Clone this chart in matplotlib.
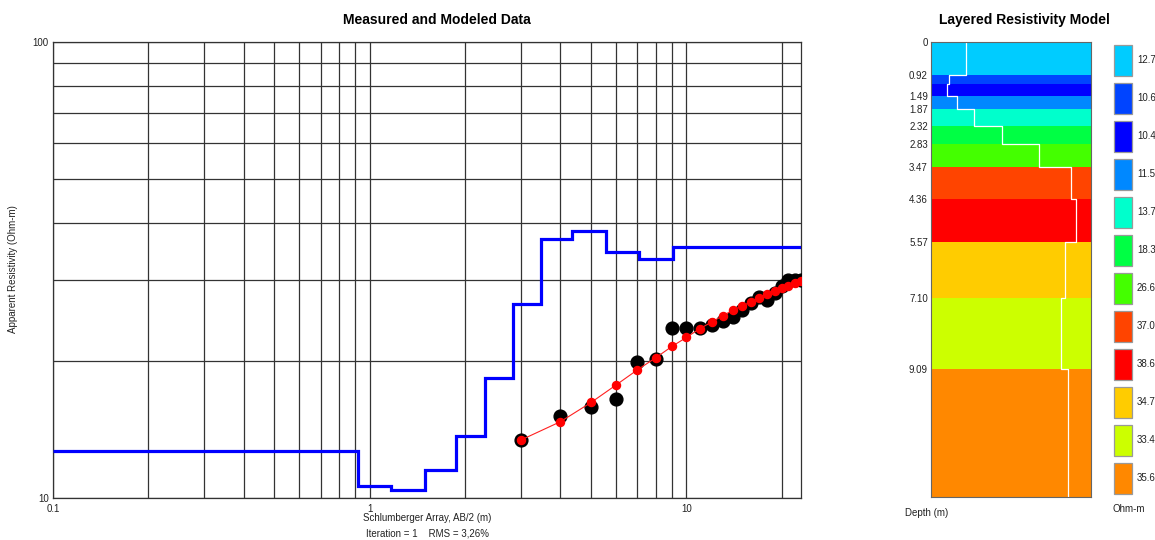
import numpy as np
import matplotlib.pyplot as plt
from matplotlib.patches import Rectangle
from matplotlib.ticker import FixedLocator, FixedFormatter, NullFormatter

plt.rcParams['font.family'] = ['Liberation Sans', 'DejaVu Sans']

# layered model, top to bottom
layer_rho = [12.7, 10.6, 10.4, 11.5, 13.7, 18.3, 26.6, 37.0, 38.6, 34.7, 33.4, 35.6]
layer_depth = [0.92, 1.17, 1.49, 1.87, 2.32, 2.83, 3.47, 4.36, 5.57, 7.10, 9.09]
layer_colors = ['#00ccff', '#0044ff', '#0000ff', '#0088ff', '#00ffcc', '#00ff44',
                '#44ff00', '#ff4400', '#ff0000', '#ffcc00', '#ccff00', '#ff8800']

# sounding curve: AB/2 spacing, measured and modeled apparent resistivity
ab2 = [3, 4, 5, 6, 7, 8, 9, 10, 11, 12, 13, 14, 15, 16, 17, 18, 19, 20, 21, 22, 23]
rho_meas = [13.4, 15.1, 15.8, 16.5, 19.9, 20.2, 23.6, 23.6, 23.6, 23.9, 24.4,
            25.0, 25.8, 26.8, 27.6, 27.2, 28.1, 29.1, 30.0, 30.1, 30.0]
rho_model = [13.4, 14.7, 16.2, 17.7, 19.1, 20.3, 21.5, 22.5, 23.5, 24.3, 25.1,
             25.8, 26.4, 26.9, 27.5, 28.0, 28.4, 28.9, 29.2, 29.6, 29.9]

iteration = 1
rms = "3,26%"

XMIN, XMAX = 0.1, 23.0
DEPTH_BOTTOM = 12.65

fig = plt.figure(figsize=(11.55, 5.4), dpi=100)
fig.patch.set_facecolor('white')

# ---- sounding curve panel ----
ax = fig.add_axes([53 / 1155, 1 - 498 / 540, 748 / 1155, 456 / 540])
ax.set_xscale('log')
ax.set_yscale('log')
ax.set_xlim(XMIN, XMAX)
ax.set_ylim(10, 100)

ax.xaxis.set_major_locator(FixedLocator([0.1, 1, 10]))
ax.xaxis.set_major_formatter(FixedFormatter(['0.1', '1', '10']))
ax.xaxis.set_minor_locator(FixedLocator([m * d for d in (0.1, 1, 10) for m in range(2, 10)]))
ax.xaxis.set_minor_formatter(NullFormatter())
ax.yaxis.set_major_locator(FixedLocator([10, 100]))
ax.yaxis.set_major_formatter(FixedFormatter(['10', '100']))
ax.yaxis.set_minor_locator(FixedLocator([m * 10 for m in range(2, 10)]))
ax.yaxis.set_minor_formatter(NullFormatter())
ax.tick_params(which='both', length=0, labelsize=7, colors='#222222')
ax.tick_params(axis='x', pad=4)
ax.tick_params(axis='y', pad=3)
ax.grid(True, which='both', color='#333333', lw=0.9)
ax.set_axisbelow(True)
for sp in ax.spines.values():
    sp.set_color('#333333')
    sp.set_linewidth(0.9)

# model as a step curve of resistivity vs depth
edges = [XMIN] + layer_depth + [XMAX]
ax.stairs(layer_rho, edges, baseline=None, color='#0000ff', lw=2.3, zorder=3)

ax.plot(ab2, rho_meas, 'o', color='black', ms=9.2, zorder=4)
ax.plot(ab2, rho_model, '-', color='#ff2020', lw=0.8, zorder=5)
ax.plot(ab2, rho_model, 'o', color='#ff0000', ms=5.8, zorder=6)

fig.text(13.5 / 1155, 1 - 269 / 540, 'Apparent Resistivity (Ohm-m)', fontsize=7,
         rotation=90, ha='center', va='center', color='#222222')
fig.text(427 / 1155, 1 - 518 / 540, 'Schlumberger Array, AB/2 (m)', fontsize=7,
         ha='center', va='center', color='#222222')
fig.text(427 / 1155, 1 - 534 / 540, f'Iteration = {iteration}    RMS = {rms}',
         fontsize=7, ha='center', va='center', color='#222222')
fig.text(437 / 1155, 1 - 20 / 540, 'Measured and Modeled Data', fontsize=10,
         fontweight='bold', ha='center', va='center')

# ---- layered model panel ----
ax2 = fig.add_axes([930.7 / 1155, 1 - 497.3 / 540, 160.3 / 1155, 455.3 / 540])
ax2.set_xscale('log')
ax2.set_xlim(min(layer_rho) * 0.85, max(layer_rho) * 1.17)
ax2.set_ylim(DEPTH_BOTTOM, 0)

tops = [0] + layer_depth
bottoms = layer_depth + [DEPTH_BOTTOM]
for top, bot, c in zip(tops, bottoms, layer_colors):
    ax2.axhspan(top, bot, color=c, lw=0)

# white trace of the resistivity profile
xs, ys = [], []
for r, top, bot in zip(layer_rho, tops, bottoms):
    xs += [r, r]
    ys += [top, bot]
ax2.plot(xs, ys, color='white', lw=0.9)

# depth labels, dropping ones that would crowd the previous label
shown = [0.0]
for d in layer_depth:
    if d - shown[-1] >= 0.3:
        shown.append(d)
ax2.set_xticks([])
ax2.set_xticks([], minor=True)
ax2.set_yticks(shown)
ax2.set_yticklabels(['0'] + [f'{d:.2f}' for d in shown[1:]])
ax2.tick_params(axis='y', length=0, labelsize=7, pad=2, colors='#222222')
ax2.yaxis.set_minor_locator(FixedLocator([]))
for sp in ax2.spines.values():
    sp.set_color('#666666')
    sp.set_linewidth(0.8)

fig.text(1024 / 1155, 1 - 20 / 540, 'Layered Resistivity Model', fontsize=10,
         fontweight='bold', ha='center', va='center')
fig.text(927 / 1155, 1 - 513 / 540, 'Depth (m)', fontsize=7, ha='center',
         va='center', color='#222222')
fig.text(1129 / 1155, 1 - 509 / 540, 'Ohm-m', fontsize=7, ha='center',
         va='center', color='#222222')

# colour key beside the model column
sw_x, sw_w, sw_h, sw_top, sw_step = 1113.5, 18.5, 31.5, 44.7, 38.0
for i, (r, c) in enumerate(zip(layer_rho, layer_colors)):
    y0 = sw_top + i * sw_step
    fig.patches.append(Rectangle((sw_x / 1155, 1 - (y0 + sw_h) / 540), sw_w / 1155,
                                 sw_h / 540, transform=fig.transFigure,
                                 facecolor=c, edgecolor='#999999', lw=0.9))
    fig.text(1137 / 1155, 1 - (y0 + sw_h / 2) / 540, f'{r:.1f}', fontsize=7,
             ha='left', va='center', color='#222222')

fig.savefig('out.png', dpi=100)
